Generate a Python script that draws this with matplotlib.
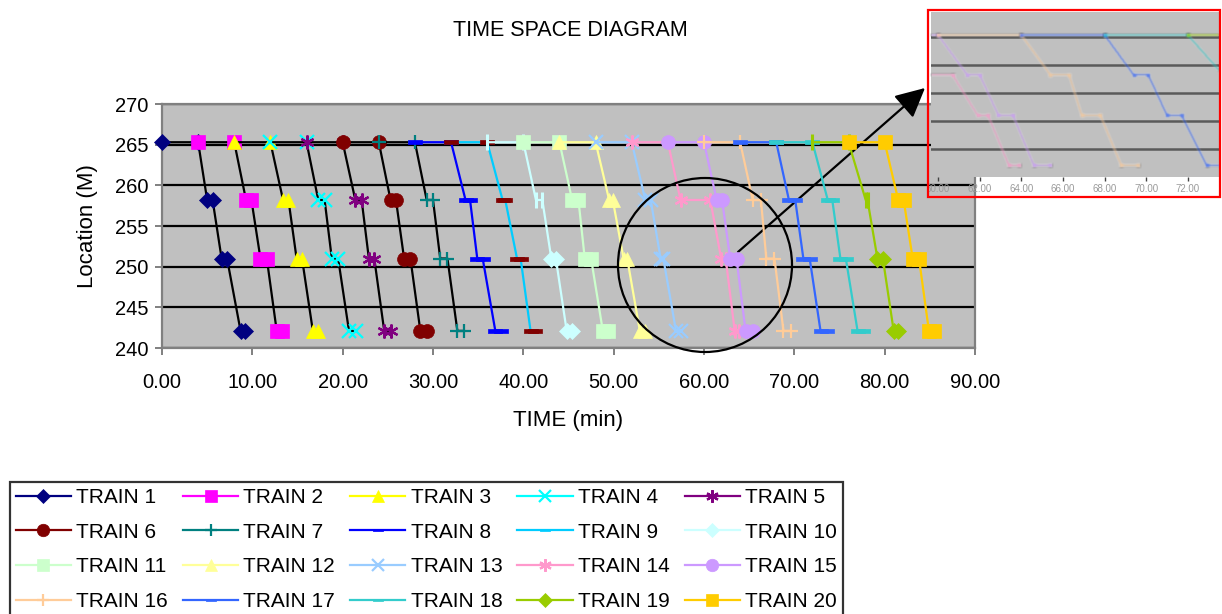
import numpy as np
import matplotlib
matplotlib.use("Agg")
import matplotlib.pyplot as plt
from matplotlib.lines import Line2D
from matplotlib.patches import Ellipse, Rectangle
from matplotlib.transforms import Bbox, TransformedBbox

plt.rcParams["font.family"] = ["Liberation Sans", "DejaVu Sans"]

# station locations (M), first entry is the origin platform
stations = [265.3, 258.2, 251.0, 242.1]

trains = [f"TRAIN {i}" for i in range(1, 21)]

# times in minutes for each train
queue_start = [0, 4, 8, 12, 16, 20, 24, 28, 32, 36, 40, 44, 48, 52, 56, 60, 64, 68, 72, 76]
depart_origin = [4, 8, 12, 16, 20, 24, 28, 32, 36, 40, 44, 48, 52, 56, 60, 64, 68, 72, 76, 80]
arr_258 = [5.0, 9.3, 13.4, 17.3, 21.4, 25.3, 29.3, 33.6, 37.7, 41.4,
           45.4, 49.5, 53.5, 57.4, 61.4, 65.4, 69.4, 73.7, 77.9, 81.5]
dep_258 = [5.6, 9.9, 14.0, 18.0, 22.1, 25.9, 30.0, 34.1, 38.0, 42.1,
           46.1, 49.9, 54.1, 60.7, 62.0, 66.3, 70.1, 74.2, 78.1, 82.1]
arr_251 = [6.6, 10.9, 14.9, 18.8, 22.9, 26.8, 30.8, 34.9, 39.3, 43.1,
           46.8, 51.1, 55.2, 61.9, 62.9, 66.9, 71.0, 75.1, 79.2, 83.1]
dep_251 = [7.2, 11.6, 15.5, 19.5, 23.5, 27.5, 31.6, 35.5, 39.7, 43.6,
           47.5, 51.5, 55.5, 62.4, 63.6, 67.8, 71.7, 75.7, 79.8, 83.8]
arr_242 = [8.7, 12.7, 16.7, 20.7, 24.6, 28.6, 32.7, 36.9, 40.8, 44.8,
           48.8, 52.9, 56.9, 63.4, 64.6, 68.8, 72.9, 77.0, 81.0, 84.9]
dep_242 = [9.2, 13.3, 17.3, 21.5, 25.3, 29.3, 33.4, 37.5, 41.3, 45.4,
           49.4, 53.5, 57.4, 63.9, 65.4, 69.6, 73.6, 77.6, 81.5, 85.5]

colours = ["#000080", "#FF00FF", "#FFFF00", "#00FFFF", "#800080",
           "#800000", "#008080", "#0000FF", "#00CCFF", "#CCFFFF",
           "#CCFFCC", "#FFFF99", "#99CCFF", "#FF99CC", "#CC99FF",
           "#FFCC99", "#3366FF", "#33CCCC", "#99CC00", "#FFCC00"]

DASH = [(-1, -0.25), (1, -0.25), (1, 0.25), (-1, 0.25), (-1, -0.25)]
ASTER = (6, 2, 0)
markers = ["D", "s", "^", "x", ASTER, "o", "+", DASH, DASH, "D",
           "s", "^", "x", ASTER, "o", "+", DASH, DASH, "D", "s"]
LINE_MARKERS = ("x", "+")

# some series use a thin vertical tick for their first few points
vbar_points = {9: 4, 18: 4}


def soften(img, dpi, r=1):
    pad = np.pad(img, ((r, r), (r, r), (0, 0)))
    k = 2 * r + 1
    tmp = sum(np.roll(pad, s, axis=0) for s in range(-r, r + 1)) / k
    out = sum(np.roll(tmp, s, axis=1) for s in range(-r, r + 1)) / k
    return out, -r, -r


def marker_kw(mk, col, ms):
    if mk in LINE_MARKERS or mk == ASTER:
        return dict(marker=mk, ms=ms, mec=col, mfc=col, mew=1.6)
    if mk == "D":
        ms = ms * 0.8
    return dict(marker=mk, ms=ms, mec=col, mfc=col, mew=0.5)


def train_path(i):
    xs = [queue_start[i], depart_origin[i], arr_258[i], dep_258[i],
          arr_251[i], dep_251[i], arr_242[i], dep_242[i]]
    ys = [stations[0], stations[0], stations[1], stations[1],
          stations[2], stations[2], stations[3], stations[3]]
    return xs, ys


fig = plt.figure(figsize=(12.22, 6.14), dpi=100)
ax = fig.add_axes([162 / 1222, 1 - 348 / 614, 813 / 1222, 244 / 614])
ax.set_facecolor("#C0C0C0")

for i in range(len(trains)):
    xs, ys = train_path(i)
    line_col = "black" if i < 7 else colours[i]
    mcol = "#800000" if i == 8 else colours[i]
    ax.plot(xs, ys, color=line_col, lw=1.6, clip_on=False, zorder=3 + i * 0.01)
    n_bar = vbar_points.get(i, 0)
    if n_bar:
        ax.plot(xs[:n_bar], ys[:n_bar], ls="none", marker="|", ms=12, mec=mcol,
                mew=2.2, clip_on=False, zorder=3 + i * 0.01)
    ax.plot(xs[n_bar:], ys[n_bar:], ls="none", clip_on=False, zorder=3 + i * 0.01,
            **marker_kw(markers[i], mcol, 10))

ax.set_xlim(0, 90)
ax.set_ylim(240, 270)
ax.set_xticks(np.arange(0, 91, 10))
ax.set_xticklabels([f"{v:.2f}" for v in np.arange(0, 91, 10)])
ax.set_yticks(np.arange(240, 271, 5))
ax.yaxis.grid(True, color="black", lw=1.6)
ax.set_axisbelow(True)
for sp in ax.spines.values():
    sp.set_color("#808080")
    sp.set_linewidth(1.6)
ax.tick_params(direction="out", length=5, width=1.4, color="#808080",
               labelsize=14.5, pad=5)
ax.tick_params(axis="x", pad=13)
ax.set_xlabel("TIME (min)", fontsize=16, labelpad=13)
ax.set_ylabel("Location (M)", fontsize=16, labelpad=12)
fig.text(570 / 1222, 1 - 30 / 614, "TIME SPACE DIAGRAM", ha="center",
         va="center", fontsize=15.5)

# legend, filled row by row
handles = []
for i in range(len(trains)):
    kw = marker_kw(markers[i], colours[i], 9)
    if markers[i] is DASH:
        kw["ms"] = 7
    handles.append(Line2D([], [], color=colours[i], lw=1.6, **kw))
order = [r * 5 + c for c in range(5) for r in range(4)]
leg = fig.legend([handles[k] for k in order], [trains[k] for k in order],
                 ncol=5, loc="upper left",
                 bbox_to_anchor=(10 / 1222, 1 - 482 / 614), frameon=True,
                 fancybox=False, edgecolor="black", fontsize=15,
                 handlelength=2.65, handletextpad=0.25, columnspacing=0.72,
                 labelspacing=0.76, borderpad=0.28, borderaxespad=0)
leg.get_frame().set_linewidth(1.6)

# highlight circle and pointer to the close-up
fig.add_artist(Ellipse((705 / 1222, 1 - 265 / 614), 174 / 1222, 174 / 614,
                       transform=fig.transFigure, fill=False, ec="black", lw=1.6))
ax.annotate("", xy=(925, 614 - 88), xytext=(738, 614 - 252),
            xycoords="figure pixels", textcoords="figure pixels",
            arrowprops=dict(arrowstyle="-|>,head_length=0.9,head_width=0.45",
                            color="black", lw=1.6, mutation_scale=20,
                            shrinkA=0, shrinkB=0))

# close-up of the 60-73 min window
ins = fig.add_axes([931 / 1222, 1 - 177 / 614, 288 / 1222, 165 / 614])
ins.set_facecolor("#C0C0C0")
for y in range(245, 270, 5):
    ins.axhline(y, color="#5a5a5a", lw=1.8, zorder=1)
for i in range(len(trains)):
    xs, ys = train_path(i)
    ln, = ins.plot(xs, ys, color=colours[i], lw=1.6, alpha=0.5, marker="s",
                   ms=3, mec="none", zorder=2 + i * 0.01)
    ln.set_agg_filter(soften)
ins.set_xlim(59.66, 73.5)
ins.set_ylim(240, 269.4)
ins.set_yticks([])
ins.set_xticks(np.arange(60, 73, 2))
ins.set_xticklabels([f"{v:.2f}" for v in np.arange(60, 73, 2)])
ins.tick_params(axis="x", direction="out", length=3, width=1, color="#444444",
                labelsize=7, labelcolor="#9a9a9a", pad=2)
for sp in ins.spines.values():
    sp.set_visible(False)
frame_box = TransformedBbox(
    Bbox.from_extents(928 / 1222, 1 - 197 / 614, 1220 / 1222, 1 - 10 / 614),
    fig.transFigure)
for lbl in ins.get_xticklabels():
    lbl.set_clip_box(frame_box)
    lbl.set_clip_on(True)
fig.add_artist(Rectangle((928 / 1222, 1 - 197 / 614), 292 / 1222, 187 / 614,
                         transform=fig.transFigure, fill=False, ec="red", lw=1.6))

fig.savefig("out.png", dpi=100)
